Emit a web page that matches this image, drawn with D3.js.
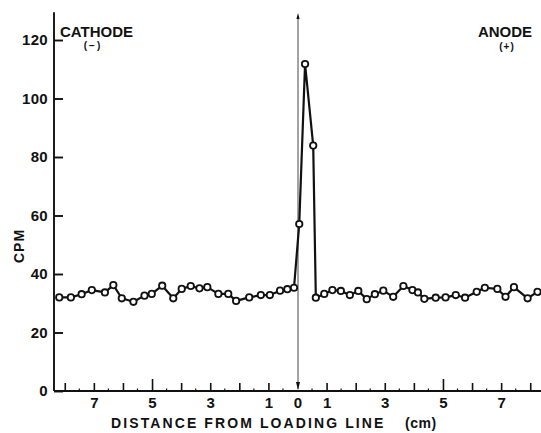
<!DOCTYPE html>
<html>
<head>
<meta charset="utf-8">
<script src="https://cdn.jsdelivr.net/npm/d3@7"></script>
<style>
  html, body { margin: 0; padding: 0; background: #fff; }
  svg { display: block; }
  text { font-family: "Liberation Sans", Arial, Helvetica, sans-serif; font-weight: bold; fill: #111; }
</style>
</head>
<body>
<svg id="chart" width="541" height="433"></svg>
<script>
// Distance from loading line (cm); negative = cathode side
const distance = [
  -8.19, -7.79, -7.42, -7.07, -6.62, -6.33, -6.04, -5.64, -5.26, -5.01, -4.65, -4.27,
  -3.98, -3.67, -3.37, -3.10, -2.72, -2.38, -2.11, -1.66, -1.26, -0.95, -0.60, -0.35, -0.12,
  0.06, 0.26, 0.54,
  0.63, 0.92, 1.20, 1.49, 1.80, 2.09, 2.38, 2.66, 2.95, 3.29, 3.64, 3.95, 4.14,
  4.36, 4.75, 5.09, 5.44, 5.76, 6.16, 6.44, 6.87, 7.15, 7.44, 7.91, 8.25
];
// Counts per minute
const cpm = [
  32.0, 32.0, 33.1, 34.5, 33.7, 36.2, 31.7, 30.5, 32.6, 33.2, 36.0, 31.7,
  34.9, 35.9, 35.1, 35.5, 33.2, 33.2, 30.8, 32.0, 32.8, 32.8, 34.3, 34.8, 35.3,
  57.1, 111.8, 83.9,
  31.9, 33.2, 34.5, 34.2, 32.8, 34.2, 31.4, 33.1, 34.3, 32.2, 35.9, 34.5, 33.7,
  31.5, 31.9, 32.0, 32.8, 31.9, 33.9, 35.3, 34.9, 32.2, 35.5, 31.7, 33.9
];
const yTicks = [0, 20, 40, 60, 80, 100, 120];
const xTicks = [-8, -7, -6, -5, -4, -3, -2, -1, 0, 1, 2, 3, 4, 5, 6, 7, 8];
const xLabelled = [-7, -5, -3, -1, 0, 1, 3, 5, 7];
const xTitle = "DISTANCE FROM LOADING LINE";
const xUnit = "(cm)";
const yTitle = "CPM";

const svg = d3.select("#chart");
svg.append("rect").attr("width", 541).attr("height", 433).attr("fill", "#fff");

const x = d3.scaleLinear().domain([-8.37, 8.37]).range([54, 541]);
const y = d3.scaleLinear().domain([0, 120]).range([391, 40]);

// Y axis
const yAxis = svg.append("g").attr("transform", `translate(${x(-8.37)},0)`)
  .call(d3.axisLeft(y).tickValues(yTicks).tickSize(-9).tickPadding(6));
yAxis.select(".domain").remove();
yAxis.append("line").attr("x1", 0).attr("x2", 0).attr("y1", y(0)).attr("y2", y(129.5))
  .attr("stroke", "#111").attr("stroke-width", 1.9);
yAxis.selectAll(".tick line").attr("stroke", "#111").attr("stroke-width", 1.9);
yAxis.selectAll(".tick text").style("font-size", "15px").style("letter-spacing", "0.3px").attr("fill", "#111");

// X axis
const xAxis = svg.append("g").attr("transform", `translate(0,${y(0)})`)
  .call(d3.axisBottom(x).tickValues(xTicks).tickSize(-8).tickPadding(6)
    .tickFormat(d => xLabelled.includes(d) ? String(Math.abs(d)) : ""));
xAxis.select(".domain").remove();
xAxis.append("line").attr("x1", x(-8.37)).attr("x2", x(8.37)).attr("y1", 0).attr("y2", 0)
  .attr("stroke", "#111").attr("stroke-width", 1.9);
xAxis.selectAll(".tick line")
  .attr("stroke", "#111").attr("stroke-width", 1.6)
  .attr("y2", d => Math.abs(d) === 5 ? -12 : (d === 0 ? 0 : -8));
xAxis.selectAll(".tick text").style("font-size", "15px").attr("fill", "#111");

// minor ticks at half centimetres
const minor = d3.range(-8.5, 8.6, 1).filter(v => v > -8.37 && v < 8.37);
xAxis.selectAll(".minor").data(minor).join("line").attr("class", "minor")
  .attr("x1", d => x(d)).attr("x2", d => x(d)).attr("y1", 0).attr("y2", -2.5)
  .attr("stroke", "#111").attr("stroke-width", 1.2);

// Loading line arrow
const ax = x(0) + 0.5;
svg.append("line").attr("x1", ax).attr("x2", ax).attr("y1", 16).attr("y2", y(0) - 2)
  .attr("stroke", "#333").attr("stroke-width", 0.9);
svg.append("path").attr("d", `M${ax - 2},${y(0) - 9} L${ax + 2},${y(0) - 9} L${ax},${y(0) - 1} Z`).attr("fill", "#111");
svg.append("path").attr("d", `M${ax - 1.6},19 L${ax + 1.6},19 L${ax},13 Z`).attr("fill", "#111");

// Data line
const line = d3.line().x((d, i) => x(distance[i])).y(d => y(d));
svg.append("path").datum(cpm).attr("d", line)
  .attr("fill", "none").attr("stroke", "#111").attr("stroke-width", 2.2).attr("stroke-linejoin", "round");

svg.selectAll(".pt").data(cpm).join("circle").attr("class", "pt")
  .attr("cx", (d, i) => x(distance[i])).attr("cy", d => y(d)).attr("r", 3.2)
  .attr("fill", "#fff").attr("stroke", "#111").attr("stroke-width", 1.8);

// Electrode annotations
svg.append("text").attr("x", 60).attr("y", 37).style("font-size", "15px").text("CATHODE");
svg.append("text").attr("x", 93).attr("y", 49).attr("text-anchor", "middle").style("font-size", "10px")
  .style("letter-spacing", "2px").text("(−)");
svg.append("text").attr("x", 505).attr("y", 37).attr("text-anchor", "middle").style("font-size", "15px").text("ANODE");
svg.append("text").attr("x", 507).attr("y", 50).attr("text-anchor", "middle").style("font-size", "10px")
  .style("letter-spacing", "1px").text("(+)");

// Axis titles
svg.append("text").attr("x", 111).attr("y", 428).style("font-size", "14px").style("letter-spacing", "2.1px")
  .text(xTitle);
svg.append("text").attr("x", 405).attr("y", 428).style("font-size", "14px").style("letter-spacing", "0.5px")
  .text(xUnit);
svg.append("text").attr("transform", "translate(24,246) rotate(-90)").attr("text-anchor", "middle")
  .style("font-size", "14px").style("letter-spacing", "1px").text(yTitle);
</script>
</body>
</html>
